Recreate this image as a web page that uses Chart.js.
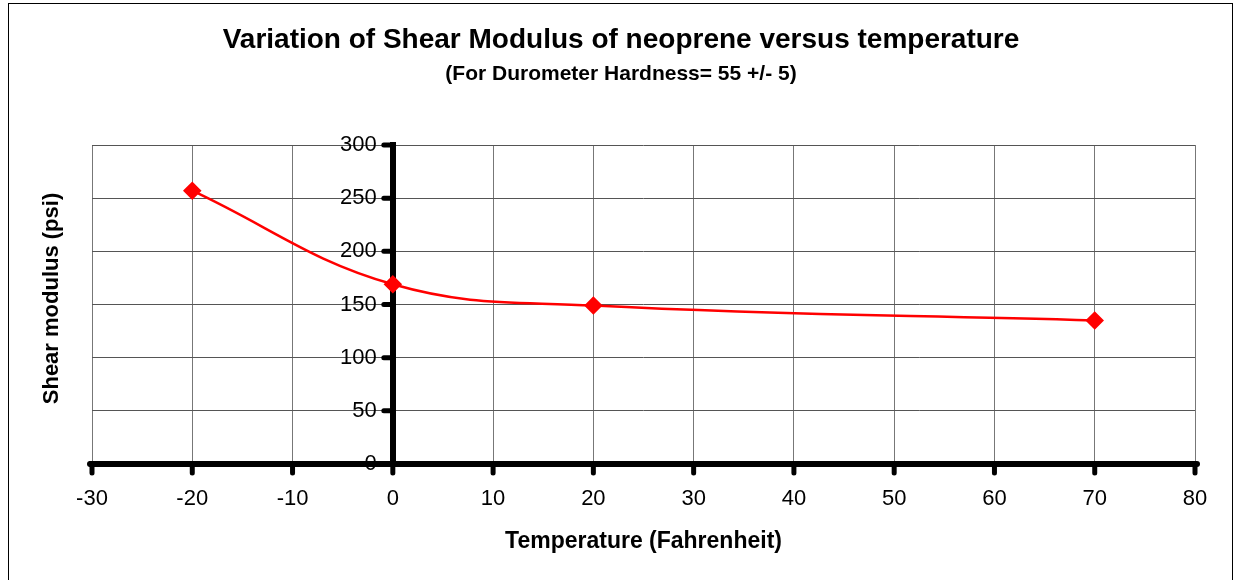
<!DOCTYPE html>
<html>
<head>
<meta charset="utf-8">
<script src="https://cdn.jsdelivr.net/npm/chart.js@4/dist/chart.umd.min.js"></script>
<style>
  body { margin: 0; background: #fff; }
</style>
</head>
<body>
<canvas id="shearChart" width="1235" height="580"></canvas>
<script>
const temperatures = [-20, 0, 20, 70];
const shearModulus = [257, 169, 149, 135];
const xTicks = [-30, -20, -10, 0, 10, 20, 30, 40, 50, 60, 70, 80];
const yTicks = [0, 50, 100, 150, 200, 250, 300];

const FONT = "'Liberation Sans', Arial, sans-serif";
Chart.defaults.font.family = FONT;
Chart.defaults.color = "#000";

// frame, titles centred on the frame, rounded tick stubs,
// y labels beside the crossing axis, y title at far left
const excelLook = {
  id: "excelLook",
  afterDraw(chart) {
    const ctx = chart.ctx;
    const area = chart.chartArea;
    const xs = chart.scales.x;
    const ys = chart.scales.y;
    const x0 = xs.getPixelForValue(0);
    const y0 = ys.getPixelForValue(0);
    ctx.save();
    ctx.strokeStyle = "#000";
    ctx.lineWidth = 1;
    ctx.strokeRect(8.5, 3.5, 1224, 590);

    ctx.fillStyle = "#000";
    ctx.textAlign = "center";
    ctx.textBaseline = "middle";
    ctx.font = "bold 28px " + FONT;
    ctx.fillText("Variation of Shear Modulus of neoprene versus temperature", 621, 40);
    ctx.font = "bold 21px " + FONT;
    ctx.fillText("(For Durometer Hardness= 55 +/- 5)", 621, 74);

    // tick stubs
    ctx.lineCap = "round";
    ctx.lineWidth = 5;
    xTicks.forEach(v => {
      const px = xs.getPixelForValue(v);
      ctx.beginPath();
      ctx.moveTo(px, y0);
      ctx.lineTo(px, y0 + 9);
      ctx.stroke();
    });
    yTicks.forEach(v => {
      const py = ys.getPixelForValue(v);
      ctx.beginPath();
      ctx.moveTo(x0, py);
      ctx.lineTo(x0 - 9, py);
      ctx.stroke();
    });
    // round ends of the x axis line
    ctx.lineWidth = 6;
    ctx.beginPath();
    ctx.moveTo(area.left - 2, y0);
    ctx.lineTo(area.right + 2, y0);
    ctx.stroke();

    // y tick labels
    ctx.font = "22px " + FONT;
    ctx.textAlign = "right";
    yTicks.forEach(v => {
      ctx.fillText(String(v), x0 - 16, ys.getPixelForValue(v));
    });

    // y title
    ctx.translate(52, (area.top + area.bottom) / 2 - 6);
    ctx.rotate(-Math.PI / 2);
    ctx.font = "bold 22px " + FONT;
    ctx.textAlign = "center";
    ctx.fillText("Shear modulus (psi)", 0, 0);
    ctx.restore();
  }
};

const ctx = document.getElementById("shearChart").getContext("2d");
new Chart(ctx, {
  type: "scatter",
  data: {
    datasets: [{
      label: "Shear modulus",
      data: temperatures.map((t, i) => ({ x: t, y: shearModulus[i] })),
      showLine: true,
      tension: 0.4,
      borderColor: "#ff0000",
      borderWidth: 2.5,
      backgroundColor: "#ff0000",
      pointStyle: "rectRot",
      pointRadius: 7.5,
      pointHoverRadius: 7.5
    }]
  },
  options: {
    responsive: false,
    animation: false,
    layout: {
      padding: { left: 92, right: 40, top: 145, bottom: 0 }
    },
    plugins: {
      legend: { display: false },
      tooltip: { enabled: false }
    },
    scales: {
      x: {
        type: "linear",
        position: "bottom",
        min: xTicks[0],
        max: xTicks[xTicks.length - 1],
        afterBuildTicks: axis => { axis.ticks = xTicks.map(v => ({ value: v })); },
        grid: {
          color: "#777",
          lineWidth: 1,
          tickColor: "rgba(0,0,0,0)",
          tickLength: 9
        },
        border: { display: true, color: "#000", width: 6 },
        ticks: { font: { size: 22 }, padding: 13, maxRotation: 0 },
        title: {
          display: true,
          text: "Temperature (Fahrenheit)",
          font: { size: 23, weight: "bold" },
          padding: { top: 2, bottom: 25 }
        }
      },
      y: {
        type: "linear",
        position: { x: 0 },
        min: yTicks[0],
        max: yTicks[yTicks.length - 1],
        afterBuildTicks: axis => { axis.ticks = yTicks.map(v => ({ value: v })); },
        grid: {
          color: "#555",
          lineWidth: 1,
          drawTicks: false
        },
        border: { display: true, color: "#000", width: 6 },
        ticks: { display: false }
      }
    }
  },
  plugins: [excelLook]
});
</script>
</body>
</html>
